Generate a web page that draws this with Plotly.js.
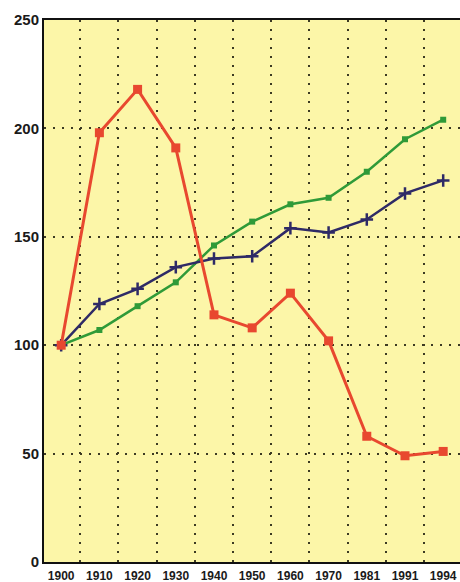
<!DOCTYPE html>
<html>
<head>
<meta charset="utf-8">
<script src="https://cdn.plot.ly/plotly-3.0.1.min.js"></script>
<style>html,body{margin:0;padding:0;background:#fff;}#chart{width:460px;height:582px;}</style>
</head>
<body>
<div id="chart"></div>
<script>
const years = ["1900","1910","1920","1930","1940","1950","1960","1970","1981","1991","1994"];
const redSeries = [100, 198, 218, 191, 114, 108, 124, 102, 58, 49, 51];
const greenSeries = [100, 107, 118, 129, 146, 157, 165, 168, 180, 195, 204];
const navySeries = [100, 119, 126, 136, 140, 141, 154, 152, 158, 170, 176];
const yTicks = [0, 50, 100, 150, 200, 250];

const idx = years.map((_, i) => i);

const traces = [
  {x: idx, y: greenSeries, mode: 'lines+markers', line: {color: '#2f9a38', width: 2.5},
   marker: {symbol: 'square', size: 6, color: '#2f9a38'}},
  {x: idx, y: navySeries, mode: 'lines+markers', line: {color: '#2e2a66', width: 2.5},
   marker: {symbol: 'cross-thin-open', size: 9, line: {color: '#2e2a66', width: 2.5}}},
  {x: idx, y: redSeries, mode: 'lines+markers', line: {color: '#e8482f', width: 3},
   marker: {symbol: 'square', size: 9, color: '#e8482f'}}
];

const gridColor = '#3c3a22';
const layout = {
  width: 460, height: 582,
  margin: {l: 44, r: 0, t: 20, b: 20, pad: 0},
  paper_bgcolor: '#ffffff',
  plot_bgcolor: '#fcf6a8',
  showlegend: false,
  font: {family: 'Liberation Sans, Arial, sans-serif', color: '#1a1a1a'},
  xaxis: {
    range: [-0.45, 10.44], tickmode: 'array', tickvals: idx, ticktext: years,
    showgrid: false, zeroline: false, showline: true, linecolor: '#111', linewidth: 2, mirror: true,
    ticks: '', ticklabelstandoff: 2, tickfont: {size: 12, family: 'Liberation Sans, Arial, sans-serif', weight: 'bold'},
    minor: {tick0: 0.5, dtick: 1, showgrid: true, gridcolor: gridColor, gridwidth: 2, griddash: '2px,7px', ticks: ''}
  },
  yaxis: {
    range: [0, 250], tickmode: 'array', tickvals: yTicks, ticktext: yTicks.map(String),
    showgrid: true, gridcolor: gridColor, gridwidth: 2, griddash: '2px,7px',
    zeroline: false, showline: true, linecolor: '#111', linewidth: 2, ticks: '',
    tickfont: {size: 15, family: 'Liberation Sans, Arial, sans-serif', weight: 'bold'}
  }
};

Plotly.newPlot('chart', traces, layout, {displayModeBar: false, staticPlot: true});
</script>
</body>
</html>
